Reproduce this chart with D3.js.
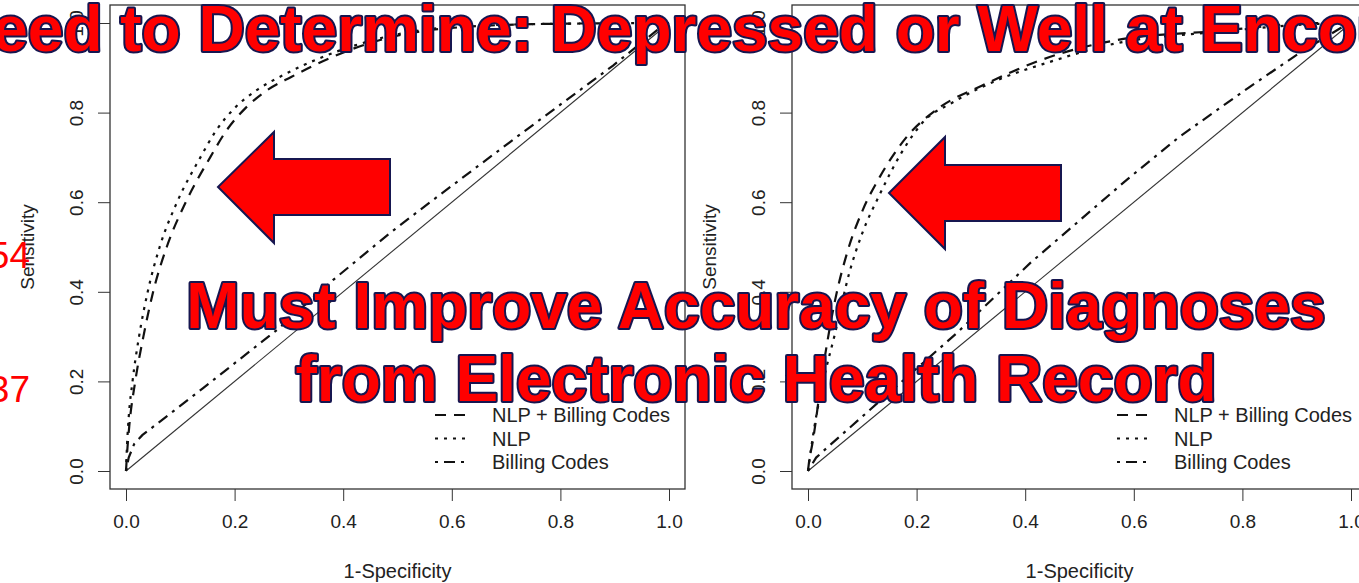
<!DOCTYPE html>
<html>
<head>
<meta charset="utf-8">
<script src="https://cdn.jsdelivr.net/npm/d3@7"></script>
<style>
  html, body { margin: 0; padding: 0; background: #fff; }
  svg { display: block; font-family: "Liberation Sans", Arial, sans-serif; }
</style>
</head>
<body>
<script>
// tick labels
const xTicks = [0, 0.2, 0.4, 0.6, 0.8, 1.0];
const yTicks = [0, 0.2, 0.4, 0.6, 0.8, 1.0];
const legendLabels = ["NLP + Billing Codes", "NLP", "Billing Codes"];

// left panel ROC curves: [1-specificity, sensitivity]
const leftCombined = [[0,0],[0.002,0.04],[0.006,0.1],[0.017,0.2],[0.032,0.3],[0.05,0.4],[0.075,0.5],[0.11,0.6],[0.155,0.7],[0.185,0.76],[0.22,0.81],[0.26,0.85],[0.305,0.88],[0.376,0.922],[0.468,0.962],[0.59,0.988],[0.775,0.998],[1,1]];
const leftNlp = [[0,0],[0.002,0.06],[0.005,0.12],[0.012,0.2],[0.024,0.3],[0.04,0.4],[0.062,0.5],[0.094,0.6],[0.137,0.7],[0.166,0.76],[0.2,0.81],[0.243,0.852],[0.29,0.884],[0.366,0.926],[0.468,0.966],[0.59,0.99],[0.775,0.998],[1,1]];
const leftBilling = [[0,0],[0.005,0.03],[0.015,0.06],[0.03,0.08],[0.142,0.185],[0.278,0.315],[0.381,0.426],[0.486,0.531],[0.56,0.6],[0.72,0.746],[0.897,0.905],[0.978,0.984],[1,1]];

// right panel ROC curves
const rightCombined = [[0,0],[0.003,0.03],[0.007,0.054],[0.028,0.232],[0.05,0.382],[0.072,0.487],[0.101,0.583],[0.132,0.656],[0.182,0.746],[0.243,0.812],[0.32,0.86],[0.445,0.924],[0.569,0.962],[0.753,0.982],[0.937,1],[1,1]];
const rightNlp = [[0,0],[0.012,0.1],[0.028,0.2],[0.05,0.308],[0.076,0.442],[0.1,0.531],[0.13,0.612],[0.172,0.71],[0.215,0.783],[0.264,0.821],[0.34,0.868],[0.445,0.913],[0.569,0.955],[0.753,0.98],[0.937,0.998],[1,1]];
const rightBilling = [[0,0],[0.015,0.03],[0.037,0.054],[0.274,0.308],[0.409,0.464],[0.587,0.65],[0.684,0.746],[0.813,0.857],[0.905,0.933],[0.984,0.991],[1,1]];

const WIDTH = 1359, HEIGHT = 583;
const PLOT_W = 543;
const Y0 = 471, Y1 = 23;
const BOX_PAD_X = 16, BOX_PAD_Y = 18;

const dashes = {
  combined: "11,8",
  nlp: "3,6",
  billing: "3,6,11,6"
};

const svg = d3.select("body").append("svg")
  .attr("width", WIDTH)
  .attr("height", HEIGHT)
  .attr("viewBox", [0, 0, WIDTH, HEIGHT]);

svg.append("rect").attr("width", WIDTH).attr("height", HEIGHT).attr("fill", "#fff");

const panels = [
  { x0: 126, curves: { combined: leftCombined, nlp: leftNlp, billing: leftBilling } },
  { x0: 808, curves: { combined: rightCombined, nlp: rightNlp, billing: rightBilling } }
];

panels.forEach(p => {
  const x = d3.scaleLinear().domain([0, 1]).range([p.x0, p.x0 + PLOT_W]);
  const y = d3.scaleLinear().domain([0, 1]).range([Y0, Y1]);
  const g = svg.append("g");

  const left = x(0) - BOX_PAD_X, right = x(1) + BOX_PAD_X;
  const top = y(1) - BOX_PAD_Y, bottom = y(0) + BOX_PAD_Y;

  // x axis
  g.append("g")
    .attr("transform", `translate(0,${bottom})`)
    .call(d3.axisBottom(x).tickValues(xTicks).tickSize(12).tickPadding(14).tickFormat(d3.format(".1f")))
    .call(a => a.select(".domain").remove())
    .call(a => a.selectAll("line").attr("stroke", "#333"))
    .call(a => a.selectAll("text").attr("font-size", 19).attr("fill", "#222").attr("font-family", "Liberation Sans, Arial"));

  // y axis, labels rotated like R
  const ya = g.append("g")
    .attr("transform", `translate(${left},0)`)
    .call(d3.axisLeft(y).tickValues(yTicks).tickSize(12).tickFormat(d3.format(".1f")))
    .call(a => a.select(".domain").remove())
    .call(a => a.selectAll("line").attr("stroke", "#333"));
  ya.selectAll("text")
    .attr("font-size", 19).attr("fill", "#222").attr("font-family", "Liberation Sans, Arial")
    .attr("x", null)
    .attr("text-anchor", "middle")
    .attr("transform", "translate(-34,0) rotate(-90)")
    .attr("dy", "0.35em");

  // box
  g.append("rect")
    .attr("x", left).attr("y", top)
    .attr("width", right - left).attr("height", bottom - top)
    .attr("fill", "none").attr("stroke", "#333").attr("stroke-width", 1.3);

  // axis titles
  g.append("text")
    .attr("x", (x(0) + x(1)) / 2).attr("y", 578)
    .attr("text-anchor", "middle").attr("font-size", 20).attr("fill", "#222")
    .text("1-Specificity");
  g.append("text")
    .attr("transform", `translate(${left - 76},${(y(0) + y(1)) / 2}) rotate(-90)`)
    .attr("text-anchor", "middle").attr("font-size", 19).attr("fill", "#222")
    .text("Sensitivity");

  // diagonal reference
  g.append("line")
    .attr("x1", x(0)).attr("y1", y(0)).attr("x2", x(1)).attr("y2", y(1))
    .attr("stroke", "#333").attr("stroke-width", 1.1);

  const smooth = d3.line().x(d => x(d[0])).y(d => y(d[1])).curve(d3.curveMonotoneX);
  const straight = d3.line().x(d => x(d[0])).y(d => y(d[1]));
  ["combined", "nlp", "billing"].forEach(k => {
    g.append("path")
      .attr("d", (k === "billing" ? straight : smooth)(p.curves[k]))
      .attr("fill", "none")
      .attr("stroke", "#111")
      .attr("stroke-width", 2.2)
      .attr("stroke-dasharray", dashes[k]);
  });

  // legend
  const lg = g.append("g").attr("transform", `translate(${p.x0 + 309},415)`);
  ["combined", "nlp", "billing"].forEach((k, i) => {
    lg.append("line")
      .attr("x1", 0).attr("x2", 33).attr("y1", i * 23.5).attr("y2", i * 23.5)
      .attr("stroke", "#111").attr("stroke-width", 2.2).attr("stroke-dasharray", dashes[k]);
    lg.append("text")
      .attr("x", 57).attr("y", i * 23.5).attr("dy", "0.35em")
      .attr("font-size", 20).attr("fill", "#222")
      .text(legendLabels[i]);
  });
});

// partial red numbers at the far left edge
svg.append("text").attr("x", 30).attr("y", 268).attr("text-anchor", "end")
  .attr("font-size", 37).attr("fill", "#ff0000").text("54");
svg.append("text").attr("x", 30).attr("y", 402).attr("text-anchor", "end")
  .attr("font-size", 37).attr("fill", "#ff0000").text("37");

// arrows
const arrows = [
  { tip: [218, 187], headX: 274, headTop: 132, headBot: 243, shaftTop: 159, shaftBot: 215, end: 390 },
  { tip: [889, 193], headX: 945, headTop: 137, headBot: 249, shaftTop: 165, shaftBot: 221, end: 1061 }
];
arrows.forEach(a => {
  const pts = [a.tip, [a.headX, a.headTop], [a.headX, a.shaftTop], [a.end, a.shaftTop],
               [a.end, a.shaftBot], [a.headX, a.shaftBot], [a.headX, a.headBot]];
  svg.append("polygon")
    .attr("points", pts.map(d => d.join(",")).join(" "))
    .attr("fill", "#ff0000").attr("stroke", "#161650").attr("stroke-width", 2);
});

// overlay slide text
const overlay = [
  { text: "Need to Determine: Depressed or Well at Encounter", x: -54, anchor: "start", y: 51, size: 64 },
  { text: "Must Improve Accuracy of Diagnoses", x: 756, anchor: "middle", y: 328, size: 64 },
  { text: "from Electronic Health Record", x: 756, anchor: "middle", y: 401, size: 64 }
];
overlay.forEach(o => {
  svg.append("text")
    .attr("x", o.x).attr("y", o.y)
    .attr("text-anchor", o.anchor)
    .attr("font-size", o.size).attr("font-weight", "bold")
    .attr("fill", "#ff0000").attr("stroke", "#161650").attr("stroke-width", 4)
    .attr("paint-order", "stroke").attr("stroke-linejoin", "round")
    .text(o.text);
});
</script>
</body>
</html>
